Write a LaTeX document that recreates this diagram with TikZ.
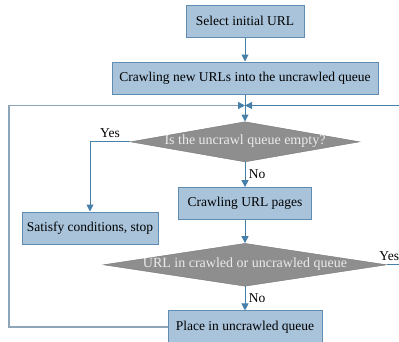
\documentclass[tikz,border=0pt]{standalone}
\usepackage{fontspec}
\setmainfont{Liberation Serif}
\usetikzlibrary{shapes.geometric,positioning,arrows.meta}
\definecolor{boxfill}{RGB}{168,195,218}
\definecolor{boxedge}{RGB}{95,140,178}
\definecolor{flowline}{RGB}{70,128,168}
\definecolor{loopline}{RGB}{140,165,185}
\definecolor{decfill}{RGB}{142,142,142}
\definecolor{decedge}{RGB}{120,120,120}
\tikzset{
  stepbox/.style={rectangle,draw=boxedge,fill=boxfill,line width=1pt,minimum height=32pt,inner sep=2pt},
  decision/.style={diamond,draw=decedge,fill=decfill,text=white!92!black,inner sep=0pt,text height=9pt,text depth=3pt,font=\fontsize{14}{16}\selectfont},
  flow/.style={draw=flowline,line width=1pt,-{Triangle[width=7pt,length=7pt]}},
  back/.style={draw=loopline,line width=1.2pt,-{Triangle[width=7pt,length=7pt,color=flowline]}},
}

\begin{document}
\begin{tikzpicture}[x=1pt,y=-1pt,node distance=24pt,font=\fontsize{13.5}{16}\selectfont]
\useasboundingbox (0,0) rectangle (399,341);

\node[stepbox,minimum width=118pt] (init) at (245,21) {Select initial URL};
\node[stepbox,minimum width=266pt,below=24pt of init] (fetch) {Crawling new URLs into the uncrawled queue};
\coordinate[below=11pt of fetch] (merge);
\node[decision,aspect=5.7,below=27pt of fetch] (empty) {Is the uncrawl queue empty?};
\node[stepbox,minimum width=133pt,below=25pt of empty] (pages) {Crawling URL pages};
\node[stepbox,minimum width=136pt] (stop) at (90,228) {Satisfy conditions, stop};
\node[decision,aspect=6.6,below=23pt of pages] (seen) {URL in crawled or uncrawled queue};
\node[stepbox,minimum width=154pt,below=24pt of seen] (place) {Place in uncrawled queue};
\coordinate (loopL) at (9,0 |- merge);
\coordinate (loopR) at (402,0 |- merge);

\draw[flow] (init) -- (fetch);
\draw[flow] (fetch) -- (empty);
\draw[flow] (empty.west) -| node[pos=0.25,above] {Yes} (stop.north);
\draw[flow] (empty) -- node[right] {No} (pages);
\draw[flow] (pages) -- (seen);
\draw[flow] (seen) -- node[right] {No} (place);
\draw[back] (place.west) -| (loopL) -- (merge);
\draw[flow] (seen.east) -| node[pos=0.08,above] {Yes} (loopR) -- (merge);

\end{tikzpicture}
\end{document}
